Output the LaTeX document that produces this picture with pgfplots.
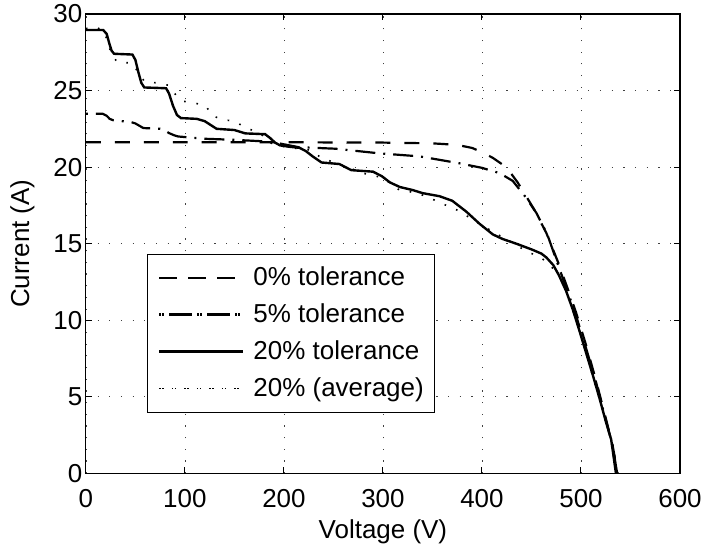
\documentclass[border=0pt]{standalone}
\usepackage{pgfplots}
\pgfplotsset{compat=1.18}
\usepackage{fontspec}
\setmainfont{Liberation Sans}

\pgfplotstableread{
V I
0 21.62
100 21.62
200 21.62
300 21.60
350 21.55
375 21.45
390 21.25
400 20.98
411 20.6
420 20.2
428 19.7
436 19.0
444.6 18.1
453 17.2
465 15.7
478 13.6
488 11.8
495 10.5
505 8.4
515 6.1
525 3.6
532 1.8
537 0
}\tzero

\pgfplotstableread{
V I
0 23.48
17 23.48
21 23.35
24 23.15
28 23.05
45 22.95
50 22.85
54 22.7
58 22.55
75 22.5
80 22.38
84 22.22
89 22.08
93 22.0
120 21.85
150 21.78
180 21.68
195 21.55
215 21.3
252 21.2
296 20.9
337 20.7
377 20.25
400 19.95
418 19.6
431 19.1
444.6 18.0
455 17.0
466 15.6
478 13.4
488 11.6
495 10.3
505 8.2
515 6.0
525 3.5
532 1.8
536.5 0
}\tfive

\pgfplotstableread{
V I
0 28.95
17.5 28.95
21 28.7
24 28.0
26 27.6
28.5 27.4
47 27.35
50 27.0
53 26.2
56 25.5
59 25.2
81 25.15
84 24.8
88 24.0
92 23.4
96 23.2
112 23.15
120 23.0
126 22.75
132 22.5
150 22.42
156 22.3
161 22.2
181 22.15
186 21.9
191 21.6
196 21.42
205 21.33
215.7 21.26
222 21.05
229 20.7
238 20.3
256 20.2
262 20.0
268 19.8
290 19.7
299 19.4
307 19.0
317 18.7
330 18.5
340 18.3
357 18.1
370 17.8
384 17.1
397.5 16.3
411 15.6
421 15.3
434.5 15.0
451 14.6
460 14.35
465 14.1
472 13.6
478 12.9
485 11.9
491.7 10.7
498 9.4
505 7.9
512 6.4
518.7 4.9
525 3.4
530.5 2.2
535.3 0
}\ttwenty

\pgfplotstableread{
V I
0 29.05
10 29.15
18 28.9
22 28.2
26 27.3
32 26.85
46 26.8
53 26.2
59 25.6
71 25.5
83 25.35
91 24.7
98 24.3
109 24.2
121 24.0
128 23.35
138 23.1
150 23.0
162 22.55
173 22.3
180 22.0
185 21.6
199 21.35
215 21.2
227.6 21.1
237.6 20.6
260 20.1
280 19.6
300 19.3
316.6 18.5
335 18.3
350.2 17.9
360 17.6
372 17.3
382.4 16.9
402.6 16.1
414.4 15.65
424.5 15.3
437.6 14.8
444.7 14.5
456 14.2
466 13.8
474 13.2
481.6 12.5
488 11.4
495 10.0
505 7.9
512 6.3
519 4.8
525 3.4
530.5 2.1
535.5 0
}\tavg

\begin{document}
\begin{tikzpicture}[font=\fontsize{26}{31}\selectfont]
\begin{axis}[
  scale only axis, width=595pt, height=460pt,
  xmin=0, xmax=600, ymin=0, ymax=30,
  xtick={0,100,...,600}, ytick={0,5,...,30},
  tick align=inside, major tick length=6pt,
  grid=major,
  major grid style={black!75, line width=0.7pt, dash pattern=on 1.2pt off 10.5pt},
  axis line style={line width=1.2pt},
  every tick/.style={black, line width=1pt},
  /pgf/number format/assume math mode=true,
  tick label style={font=\fontsize{26}{31}\selectfont},
  xticklabel style={anchor=base, yshift=-34pt},
  xlabel={Voltage (V)}, ylabel={Current (A)},
  label style={font=\fontsize{26}{31}\selectfont},
  xlabel style={at={(axis description cs:0.5,-0.1413)}, anchor=base},
  ylabel style={at={(axis description cs:-0.1067,0.5)}, anchor=center},
  legend cell align=left,
  legend image code/.code={\path (0pt,0pt) -- (84pt,0pt); \draw[#1] (3pt,0pt) -- (81pt,0pt);},
  legend style={at={(axis description cs:0.1025,0.1326)}, anchor=south west,
    draw=black, line width=0.9pt, fill=white,
    inner xsep=11pt, inner ysep=12.5pt, row sep=15pt, column sep=9pt,
    nodes={inner sep=0pt, text height=19pt, text depth=3pt},
    font=\fontsize{26}{31}\selectfont},
]
\addplot[black, line width=2.2pt, dash pattern=on 15pt off 14pt] table[x=V,y=I] {\tzero};
\addlegendentry{0\% tolerance}
\addplot[black, line width=2.2pt, dash pattern=on 2pt off 8pt on 20pt off 8pt] table[x=V,y=I] {\tfive};
\addlegendentry{5\% tolerance}
\addplot[black, line width=2.4pt] table[x=V,y=I] {\ttwenty};
\addlegendentry{20\% tolerance}
\addplot[black, line width=1.6pt, dash pattern=on 1.6pt off 10.9pt] table[x=V,y=I] {\tavg};
\addlegendentry{20\% (average)}
\end{axis}
\path ([shift={(-86pt,-76pt)}]current axis.south west) rectangle ([shift={(24pt,14pt)}]current axis.north east);
\end{tikzpicture}
\end{document}
